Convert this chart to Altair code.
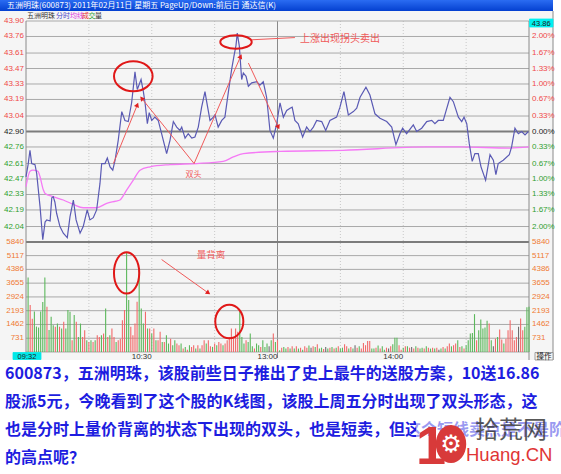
import math
import altair as alt
import pandas as pd

# plot area (price panel on top, volume panel below) in pixels
PW, PH = 503, 331
PRICE_H = 221

# ---------------- data ----------------
# last price: minutes after 09:30 (lunch break removed) and price
price_t = [0, 1.0, 1.9, 2.7, 4.3, 5.1, 6.7, 8.0, 9.1, 9.9,
           11.5, 12.3, 13.0, 13.8, 14.6, 16.2, 17.8, 19.7, 21.0, 22.6,
           23.9, 25.8, 27.3, 29.2, 30.5, 32.1, 33.7, 35.3, 36.1, 37.7,
           38.8, 40.1, 41.4, 42.5, 44.0, 45.7, 47.2, 48.8, 50.4, 52.0,
           53.1, 54.9, 56.0, 56.8, 57.9, 58.8, 60.0, 61.5, 63.1, 64.7,
           66.3, 67.1, 68.7, 70.3, 71.9, 73.5, 74.3, 75.9, 77.4, 79.1,
           80.6, 82.2, 83.8, 85.4, 86.2, 87.8, 89.4, 90.2, 91.7, 93.4,
           94.9, 96.5, 98.1, 99.2, 100.2, 100.8, 101.8, 102.9, 103.7, 105.0,
           106.1, 107.7, 110.1, 111.6, 113.2, 114.8, 116.4, 118.0, 119.6, 121.2,
           122.8, 124.4, 126.0, 127.0, 128.3, 129.9, 132.0, 133.9, 135.5, 137.1,
           138.7, 141.1, 143.0, 145.0, 148.2, 149.8, 151.7, 153.8, 156.2, 157.8,
           159.4, 162.2, 164.1, 166.5, 168.9, 172.1, 174.5, 176.5, 178.4, 179.7,
           181.6, 184.8, 186.4, 188.8, 191.2, 193.6, 195.1, 196.7, 199.1, 202.3,
           203.9, 206.3, 207.9, 209.0, 210.3, 211.5, 212.9, 214.2, 215.8, 217.1,
           219.3, 221.4, 223.0, 224.2, 225.3, 227.7, 230.6, 231.7, 233.3, 234.9,
           236.5, 238.1, 239.7]
price_v = [42.49, 42.60, 42.73, 42.61, 42.60, 42.52, 42.22, 41.92, 42.08, 42.10,
           42.09, 42.30, 42.31, 42.26, 42.16, 42.04, 41.98, 41.94, 42.13, 42.28,
           42.10, 41.98, 42.04, 42.19, 42.10, 42.12, 42.19, 42.43, 42.61, 42.61,
           42.66, 42.58, 42.55, 42.64, 42.82, 43.08, 43.00, 42.99, 43.16, 43.44,
           43.28, 43.37, 43.26, 43.16, 42.97, 43.07, 43.00, 43.03, 43.00, 42.88,
           42.76, 42.70, 42.82, 42.99, 42.94, 42.91, 42.94, 42.84, 42.88, 42.84,
           42.85, 42.94, 43.12, 43.26, 43.17, 43.00, 43.03, 43.05, 42.94, 43.00,
           43.03, 43.25, 43.46, 43.58, 43.68, 43.79, 43.67, 43.37, 43.43, 43.40,
           43.31, 43.34, 43.35, 43.32, 43.35, 43.21, 42.91, 42.84, 42.97, 43.16,
           43.03, 43.09, 43.11, 43.12, 43.00, 42.97, 42.85, 42.94, 42.90, 42.94,
           43.00, 42.99, 42.91, 43.00, 43.03, 43.12, 43.26, 43.05, 43.08, 43.11,
           43.21, 43.30, 43.23, 43.06, 43.02, 42.99, 42.94, 42.78, 42.88, 42.93,
           42.88, 42.96, 42.90, 42.93, 42.99, 43.00, 42.97, 43.00, 43.00, 43.21,
           43.17, 43.03, 42.99, 43.03, 42.97, 42.79, 42.63, 42.70, 42.70, 42.58,
           42.46, 42.69, 42.64, 42.51, 42.61, 42.64, 42.69, 42.76, 42.93, 42.88,
           42.90, 42.87, 42.90]

# average price line
avg_t = [0, 1.9, 3.3, 5.7, 6.7, 8.3, 9.1, 13.0, 17.8, 22.6,
         27.3, 33.7, 38.5, 42.9, 44.8, 48.0, 51.2, 54.4, 59.2, 68.7,
         81.4, 94.1, 98.9, 103.7, 121.2, 151.2, 191.2, 207.1, 230.9, 240]
avg_v = [42.40, 42.54, 42.55, 42.54, 42.49, 42.37, 42.34, 42.31, 42.28, 42.24,
         42.21, 42.21, 42.25, 42.27, 42.28, 42.37, 42.46, 42.55, 42.58, 42.60,
         42.61, 42.63, 42.67, 42.70, 42.72, 42.73, 42.76, 42.76, 42.75, 42.76]

# volume per minute (lots), 240 bars
vol = [3950, 2500, 1760, 2150, 1350, 1300, 2150, 2650, 3950, 2400,
       1170, 1870, 1420, 1340, 1510, 1340, 1250, 1600, 1250, 2230,
       2140, 620, 1960, 1600, 800, 1510, 800, 1160, 620, 530,
       620, 530, 620, 890, 800, 890, 980, 2310, 800, 890,
       1250, 800, 530, 620, 710, 1690, 2230, 5250, 2760, 1340,
       890, 1510, 2670, 4450, 2310, 1510, 2140, 1250, 1250, 980,
       1250, 620, 620, 1070, 530, 530, 890, 450, 710, 360,
       620, 450, 360, 450, 180, 270, 120, 360, 270, 360,
       180, 360, 180, 360, 620, 450, 620, 300, 270, 450,
       360, 530, 450, 360, 450, 620, 800, 1250, 800, 1250,
       1070, 2140, 800, 450, 620, 530, 980, 300, 180, 450,
       360, 270, 620, 270, 450, 300, 620, 980, 530, 620,
       90, 230, 270, 180, 270, 180, 300, 180, 300, 180,
       230, 120, 300, 230, 340, 230, 300, 270, 410, 180,
       230, 160, 270, 180, 230, 270, 180, 230, 300, 180,
       230, 410, 300, 180, 270, 180, 360, 230, 300, 180,
       480, 360, 590, 590, 180, 180, 230, 340, 180, 300,
       120, 230, 180, 300, 410, 750, 750, 360, 120, 230,
       300, 300, 230, 270, 180, 300, 230, 180, 230, 180,
       300, 230, 180, 230, 180, 230, 120, 180, 270, 180,
       300, 450, 300, 360, 450, 620, 270, 300, 180, 360,
       620, 980, 1010, 2010, 620, 1160, 1730, 1250, 1300, 1660,
       1510, 620, 300, 710, 800, 1190, 660, 450, 710, 1160,
       1690, 1160, 620, 800, 1340, 1780, 1160, 1340, 2370, 2400]
# r = up tick, g = down tick, n = unchanged
vol_dir = ("grrggggggr" "gggrgrgrgg" "grgrggrrgr" "grgrrgrgrg"
           "rrgrrrrggr" "rrrgggrgrg" "rgrrgrggrg" "grrgrgrgrr"
           "grgrrgrrgr" "grrgrrrrrr" "rgggrgggrg" "grgggngrgr"
           "grggrgrgrg" "rgrrgnrgrg" "grngrgrgrg" "grrgrgnrgr"
           "rrrrggrgrg" "grnrgggrrg" "rgrnrgrggr" "grgrgrngrg"
           "rrgrrgrgrg" "ggggrggggg" "rgnrgrrgrr" "rrrrnrrggg")

prev_close = 42.90
price_ticks = [43.90, 43.76, 43.61, 43.47, 43.33, 43.19, 43.04,
               42.90, 42.76, 42.61, 42.47, 42.33, 42.19, 42.04]
pct_labels = ["", "2.00%", "1.67%", "1.33%", "1.00%", "0.67%", "0.33%",
              "0.00%", "0.33%", "0.67%", "1.00%", "1.33%", "1.67%", "2.00%"]
vol_ticks = [5840, 5117, 4386, 3655, 2924, 2193, 1462, 731]
time_grid = [30, 60, 90, 150, 180, 210]
time_labels = {60: "10:30", 120: "13:00", 180: "14:00"}

# annotations (data coordinates)
price_arrows = {"t1": [41.7, 80.2, 80.2, 106.1],
                "p1": [42.61, 42.61, 42.61, 43.52],
                "t2": [53.1, 55.2, 102.4, 120.4],
                "p2": [43.14, 43.20, 43.58, 42.94]}
vol_arrow = {"t1": [64.7], "v1": [4909], "t2": [87.0], "v2": [3132]}

paragraph = ["600873，五洲明珠，该股前些日子推出了史上最牛的送股方案，10送16.86",
             "股派5元，今晚看到了这个股的K线图，该股上周五分时出现了双头形态，这",
             "也是分时上量价背离的状态下出现的双头，也是短卖，但这个短线卖点是不是阶段",
             "的高点呢？"]

RED, GREEN, ORANGE = "#f04848", "#2f9f2f", "#f07a34"
CJK = "Noto Sans CJK SC"
NUM = "Liberation Sans"

# ---------------- scales ----------------
xs = alt.Scale(domain=[0, 240], nice=False, zero=False)
ps = alt.Scale(domain=[41.90, 43.90], range=[PRICE_H, 0], nice=False, zero=False)
vs = alt.Scale(domain=[0, 5840], range=[PH, PRICE_H], nice=False, zero=False)


def X(f):
    return alt.X(f"{f}:Q", scale=xs, axis=None)


def YP(f):
    return alt.Y(f"{f}:Q", scale=ps, axis=None)


def YV(f):
    return alt.Y(f"{f}:Q", scale=vs, axis=None)


one = pd.DataFrame({"k": [0]})
layers = []

# panel background and title bar
layers.append(alt.Chart(one).mark_rect(color="#f5f5f5").encode(
    x=alt.value(-26), x2=alt.value(527), y=alt.value(-10), y2=alt.value(339)))
layers.append(alt.Chart(one).mark_rect(
    fill=alt.LinearGradient(gradient="linear", x1=0, x2=0, y1=0, y2=1,
                            stops=[alt.GradientStop(color="#2a6cf2", offset=0),
                                   alt.GradientStop(color="#0440d0", offset=1)])
).encode(x=alt.value(-26), x2=alt.value(527), y=alt.value(-21), y2=alt.value(-10)))

# vertical time grid
layers.append(alt.Chart(pd.DataFrame({"t": time_grid})).mark_rule(
    color="#c8c8c8", strokeWidth=1, strokeDash=[1, 2]).encode(
    x=X("t"), y=alt.value(0), y2=alt.value(PH)))
layers.append(alt.Chart(pd.DataFrame({"t": [120]})).mark_rule(
    color="#8a8a8a", strokeWidth=1).encode(x=X("t"), y=alt.value(0), y2=alt.value(PH + 6)))

# horizontal price grid
grid_p = pd.DataFrame({"p": [p for p in price_ticks if p != prev_close]})
layers.append(alt.Chart(grid_p).mark_rule(color="#a9a9a9", strokeWidth=1).encode(
    y=YP("p"), x=alt.value(0), x2=alt.value(PW)))
layers.append(alt.Chart(pd.DataFrame({"p": [prev_close]})).mark_rule(
    color="#7c7c7c", strokeWidth=2).encode(y=YP("p"), x=alt.value(0), x2=alt.value(PW)))

# horizontal volume grid
layers.append(alt.Chart(pd.DataFrame({"v": vol_ticks[1:] + [0]})).mark_rule(
    color="#a9a9a9", strokeWidth=1).encode(y=YV("v"), x=alt.value(0), x2=alt.value(PW)))
layers.append(alt.Chart(pd.DataFrame({"v": [vol_ticks[0]]})).mark_rule(
    color="#7c7c7c", strokeWidth=2).encode(y=YV("v"), x=alt.value(0), x2=alt.value(PW)))

# frame lines
for xv in (0, PW, 527):
    layers.append(alt.Chart(one).mark_rule(color="#8a8a8a", strokeWidth=1).encode(
        x=alt.value(xv), y=alt.value(-10 if xv == 527 else 0), y2=alt.value(339)))

# volume bars
vdf = pd.DataFrame({"t": [i + 1 for i in range(len(vol))], "v": vol, "d": list(vol_dir)})
layers.append(alt.Chart(vdf).mark_rule(strokeWidth=1.1).encode(
    x=X("t"), y=YV("v"), y2=alt.datum(0),
    color=alt.Color("d:N", scale=alt.Scale(domain=["r", "g", "n"],
                                           range=["#f26a6a", "#5cb85c", "#6e6e6e"]),
                    legend=None)))

# average price and last price
layers.append(alt.Chart(pd.DataFrame({"t": avg_t, "p": avg_v})).mark_line(
    color="#f57af5", strokeWidth=1.3, interpolate="monotone").encode(x=X("t"), y=YP("p")))
layers.append(alt.Chart(pd.DataFrame({"t": price_t, "p": price_v})).mark_line(
    color="#5a5ab4", strokeWidth=1.2).encode(x=X("t"), y=YP("p")))

# ---------------- annotations ----------------
ANN = "#f05a5a"
px_min = PW / 240.0
px_price = PRICE_H / 2.0
px_vol = (PH - PRICE_H) / 5840.0


def heading(dx, dy):
    return math.degrees(math.atan2(dx, -dy)) % 360


pa = pd.DataFrame(price_arrows)
pa["ang"] = [heading((b - a) * px_min, -(d - c) * px_price)
             for a, b, c, d in zip(pa.t1, pa.t2, pa.p1, pa.p2)]
layers.append(alt.Chart(pa).mark_rule(color=ANN, strokeWidth=1).encode(
    x=X("t1"), y=YP("p1"), x2="t2:Q", y2="p2:Q"))
layers.append(alt.Chart(pa).mark_point(shape="triangle-up", filled=True, color="#e02020",
                                       size=28, opacity=1).encode(
    x=X("t2"), y=YP("p2"), angle=alt.Angle("ang:Q", scale=None)))

va = pd.DataFrame(vol_arrow)
va["ang"] = [heading((b - a) * px_min, -(d - c) * px_vol)
             for a, b, c, d in zip(va.t1, va.t2, va.v1, va.v2)]
layers.append(alt.Chart(va).mark_rule(color=ANN, strokeWidth=1).encode(
    x=X("t1"), y=YV("v1"), x2="t2:Q", y2="v2:Q"))
layers.append(alt.Chart(va).mark_point(shape="triangle-up", filled=True, color="#e02020",
                                       size=28, opacity=1).encode(
    x=X("t2"), y=YV("v2"), angle=alt.Angle("ang:Q", scale=None)))

# line leading to the sell note
layers.append(alt.Chart(pd.DataFrame({"t1": [107.7], "p1": [43.73], "t2": [128.3], "p2": [43.75]}))
              .mark_rule(color=ANN, strokeWidth=1).encode(x=X("t1"), y=YP("p1"), x2="t2:Q", y2="p2:Q"))

# red ellipses around the two price tops and the two volume spikes
ELL_H = "M-1,0A1,{r},0,1,1,1,0A1,{r},0,1,1,-1,0Z"
ELL_V = "M0,-1A{r},1,0,1,1,0,1A{r},1,0,1,1,0,-1Z"
for t, p, shape, size in [(51.2, 43.40, ELL_H.format(r=0.78), 1490),
                          (100.2, 43.71, ELL_H.format(r=0.43), 986)]:
    layers.append(alt.Chart(pd.DataFrame({"t": [t], "p": [p]})).mark_point(
        shape=shape, size=size, filled=False, color="#e01818", strokeWidth=2, opacity=1
    ).encode(x=X("t"), y=YP("p")))
for t, v, shape, size in [(48.0, 4200, ELL_V.format(r=0.61), 1714),
                          (97.0, 1617, ELL_V.format(r=0.84), 1116)]:
    layers.append(alt.Chart(pd.DataFrame({"t": [t], "v": [v]})).mark_point(
        shape=shape, size=size, filled=False, color="#e01818", strokeWidth=2, opacity=1
    ).encode(x=X("t"), y=YV("v")))

notes_p = pd.DataFrame({"t": [130.7, 79.9], "p": [43.74, 42.51],
                        "s": ["上涨出现拐头卖出", "双头"]})
layers.append(alt.Chart(notes_p.iloc[[0]]).mark_text(
    align="left", baseline="middle", font=CJK, fontSize=10, color=ANN).encode(
    x=X("t"), y=YP("p"), text="s:N"))
layers.append(alt.Chart(notes_p.iloc[[1]]).mark_text(
    align="center", baseline="middle", font=CJK, fontSize=8, color=ANN).encode(
    x=X("t"), y=YP("p"), text="s:N"))
layers.append(alt.Chart(pd.DataFrame({"t": [88.3], "v": [5176], "s": ["量背离"]})).mark_text(
    align="center", baseline="middle", font=CJK, fontSize=9.5, color=ANN).encode(
    x=X("t"), y=YV("v"), text="s:N"))

# ---------------- tick labels ----------------
def price_color(p):
    if abs(p - prev_close) < 1e-9:
        return "#222222"
    return RED if p > prev_close else GREEN


lp = pd.DataFrame({"p": price_ticks, "s": [f"{p:.2f}" for p in price_ticks],
                   "c": [price_color(p) for p in price_ticks]})
layers.append(alt.Chart(lp).mark_text(align="right", baseline="middle", font=NUM, fontSize=8).encode(
    x=alt.value(-2), y=YP("p"), text="s:N", color=alt.Color("c:N", scale=None)))
rp = pd.DataFrame({"p": price_ticks, "s": pct_labels,
                   "c": [price_color(p) for p in price_ticks]}).iloc[1:]
layers.append(alt.Chart(rp).mark_text(align="left", baseline="middle", font=NUM, fontSize=8).encode(
    x=alt.value(PW + 3), y=YP("p"), text="s:N", color=alt.Color("c:N", scale=None)))

vl = pd.DataFrame({"v": vol_ticks, "s": [str(v) for v in vol_ticks]})
layers.append(alt.Chart(vl).mark_text(align="right", baseline="middle", font=NUM, fontSize=8,
                                      color=ORANGE).encode(x=alt.value(-2), y=YV("v"), text="s:N"))
layers.append(alt.Chart(vl).mark_text(align="left", baseline="middle", font=NUM, fontSize=8,
                                      color=ORANGE).encode(x=alt.value(PW + 3), y=YV("v"), text="s:N"))

tl = pd.DataFrame({"t": list(time_labels), "s": list(time_labels.values())})
layers.append(alt.Chart(tl).mark_text(align="right", baseline="middle", font=NUM, fontSize=8,
                                      color="#333333").encode(x=X("t"), y=alt.value(PH + 5), text="s:N"))

# cyan value boxes and the corner button
for x0, x1, y0, y1, s, fill in [(-13, 15, 331.5, 338.5, "09:32", "#00e8e8"),
                                (503.5, 527, -2, 6, "43.86", "#00f0f0"),
                                (509, 527, 331.5, 339, "操作", "#f5f5f5")]:
    layers.append(alt.Chart(one).mark_rect(fill=fill, stroke="#888888" if s == "操作" else fill,
                                           strokeWidth=0.8).encode(
        x=alt.value(x0), x2=alt.value(x1), y=alt.value(y0), y2=alt.value(y1)))
    layers.append(alt.Chart(one).mark_text(align="center", baseline="middle",
                                           font=CJK if s == "操作" else NUM, fontSize=7.5,
                                           color="#202020").encode(
        x=alt.value((x0 + x1) / 2), y=alt.value((y0 + y1) / 2 + 0.5), text=alt.value(s)))

# legend row
for xv, s, c in [(1, "五洲明珠", "#333333"), (30, "分时", "#4848c8"), (44, "均线", "#e040e0"),
                 (56, "成", "#e83030"), (62.5, "交", "#2f9f2f"), (69, "量", "#333333")]:
    layers.append(alt.Chart(one).mark_text(align="left", baseline="middle", font=CJK,
                                           fontSize=7, color=c).encode(
        x=alt.value(xv), y=alt.value(-5), text=alt.value(s)))

# title bar text
layers.append(alt.Chart(one).mark_text(align="left", baseline="middle", font=CJK, fontSize=8,
                                       color="white").encode(
    x=alt.value(-19), y=alt.value(-15.5),
    text=alt.value("五洲明珠(600873) 2011年02月11日 星期五 PageUp/Down:前后日 通达信(K)")))

# ---------------- commentary paragraph ----------------
layers.append(alt.Chart(one).mark_text(align="left", baseline="middle", font=CJK, fontSize=16,
                                       fontWeight="bold", color="#1d1de0", lineBreak="\n",
                                       lineHeight=28).encode(
    x=alt.value(-21), y=alt.value(353), text=alt.value("\n".join(paragraph))))

# site mark
layers.append(alt.Chart(one).mark_rect(color="white", opacity=0.55).encode(
    x=alt.value(390), x2=alt.value(535), y=alt.value(396), y2=alt.value(446)))
layers.append(alt.Chart(one).mark_text(align="left", baseline="alphabetic", font=NUM, fontSize=54,
                                       fontWeight="bold", color="#d83a3a").encode(
    x=alt.value(390), y=alt.value(443), text=alt.value("1")))
layers.append(alt.Chart(one).mark_point(shape="M-0.8,0A0.8,1,0,1,1,0.8,0A0.8,1,0,1,1,-0.8,0Z",
                                        size=1450, filled=True, color="#d83a3a", opacity=1).encode(
    x=alt.value(425), y=alt.value(423)))
layers.append(alt.Chart(one).mark_text(align="center", baseline="middle", font="DejaVu Sans",
                                       fontSize=24, color="white").encode(
    x=alt.value(425), y=alt.value(424), text=alt.value("⚙")))
layers.append(alt.Chart(one).mark_text(align="left", baseline="middle", font=CJK, fontSize=24,
                                       color="#3c3c3c", opacity=0.85).encode(
    x=alt.value(449), y=alt.value(410), text=alt.value("拾荒网")))
layers.append(alt.Chart(one).mark_text(align="left", baseline="middle", font=NUM, fontSize=18.5,
                                       color="#e03535").encode(
    x=alt.value(440), y=alt.value(434), text=alt.value("Huang.CN")))

chart = alt.layer(*layers).resolve_scale(y="independent", color="independent").properties(
    width=PW, height=PH,
    padding={"left": 26, "top": 21, "right": 32, "bottom": 122},
    autosize=alt.AutoSizeParams(type="none"),
    background="white",
).configure_view(stroke=None)

chart.save("out.html", embed_options={"renderer": "svg", "actions": False})
